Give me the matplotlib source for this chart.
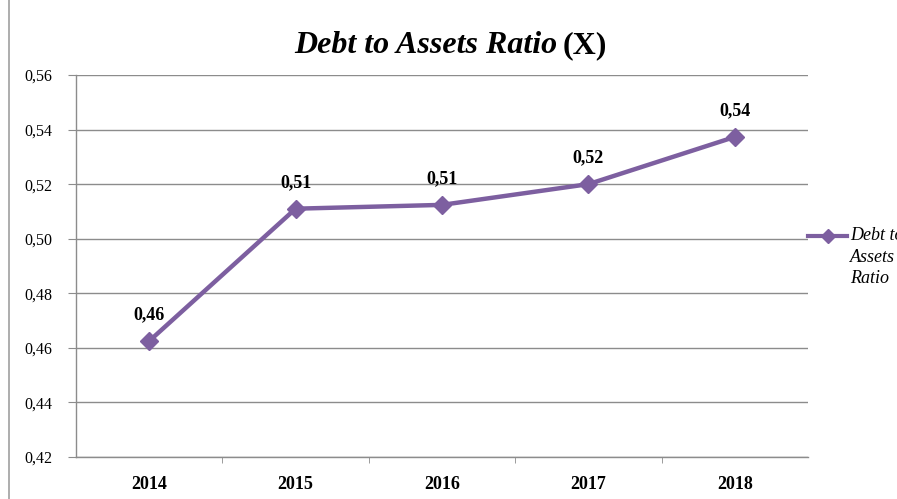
import matplotlib
matplotlib.use("Agg")
import matplotlib.pyplot as plt
from matplotlib.lines import Line2D
from matplotlib.patches import Rectangle
from matplotlib.ticker import FixedLocator, FuncFormatter

years = ["2014", "2015", "2016", "2017", "2018"]
ratio = [0.4625, 0.511, 0.5124, 0.520, 0.5373]
labels = ["0,46", "0,51", "0,51", "0,52", "0,54"]
yticks = [0.42, 0.44, 0.46, 0.48, 0.50, 0.52, 0.54, 0.56]
legend_lines = ["Debt to", "Assets", "Ratio"]

PURPLE = "#7d5fa0"
GRID = "#8c8c8c"
SERIF = ["Liberation Serif", "DejaVu Serif"]

fig = plt.figure(figsize=(8.97, 4.99), dpi=100)
fig.patches.append(Rectangle((9 / 897, -0.01), 1.2, 1.2, transform=fig.transFigure,
                             fill=False, edgecolor="#a0a0a0", linewidth=1.2))
ax = fig.add_axes([76 / 897, 1 - 457 / 499, 732 / 897, 382 / 499])

x = range(len(years))
ax.plot(x, ratio, color=PURPLE, linewidth=3.2, marker="D", markersize=9, zorder=3)
for i, (v, t) in enumerate(zip(ratio, labels)):
    ax.annotate(t, (i, v), xytext=(0, 19), textcoords="offset points",
                ha="center", va="center", fontsize=13, fontweight="bold",
                family=SERIF)

ax.set_xlim(-0.5, len(years) - 0.5)
ax.set_ylim(0.42, 0.56)
ax.set_yticks(yticks)
ax.yaxis.set_major_formatter(FuncFormatter(lambda v, p: f"{v:.2f}".replace(".", ",")))
ax.set_xticks(list(x))
ax.set_xticklabels(years)
ax.xaxis.set_minor_locator(FixedLocator([i + 0.5 for i in range(len(years) - 1)]))
ax.tick_params(axis="x", which="major", length=0, pad=14)
ax.tick_params(axis="x", which="minor", length=4, color=GRID, direction="out")
ax.tick_params(axis="y", length=6, color=GRID, pad=11)
for lab in ax.get_xticklabels():
    lab.set_family(SERIF)
    lab.set_fontsize(13)
    lab.set_fontweight("bold")
for lab in ax.get_yticklabels():
    lab.set_family(SERIF)
    lab.set_fontsize(11.5)
ax.grid(axis="y", color=GRID, linewidth=1)
ax.set_axisbelow(True)
for s in ["top", "right"]:
    ax.spines[s].set_visible(False)
for s in ["left", "bottom"]:
    ax.spines[s].set_color(GRID)
    ax.spines[s].set_linewidth(1)

fig.text(557 / 897, 1 - 53 / 499, "Debt to Assets Ratio", ha="right", va="baseline",
         fontsize=23, fontweight="bold", fontstyle="italic", family=SERIF)
fig.text(563 / 897, 1 - 53 / 499, "(X)", ha="left", va="baseline",
         fontsize=23, fontweight="bold", family=SERIF)

# legend drawn by hand so the key sits on the first text line
ly = 1 - 236 / 499
fig.add_artist(Line2D([808 / 897, 847 / 897], [ly, ly], transform=fig.transFigure,
                      color=PURPLE, linewidth=3))
fig.add_artist(Line2D([828 / 897], [ly], transform=fig.transFigure, color=PURPLE,
                      marker="D", markersize=7))
for k, t in enumerate(legend_lines):
    fig.text(850 / 897, 1 - (240 + 21.5 * k) / 499, t, ha="left", va="baseline",
             fontsize=13, fontstyle="italic", family=SERIF)

fig.savefig("out.png", dpi=100)
